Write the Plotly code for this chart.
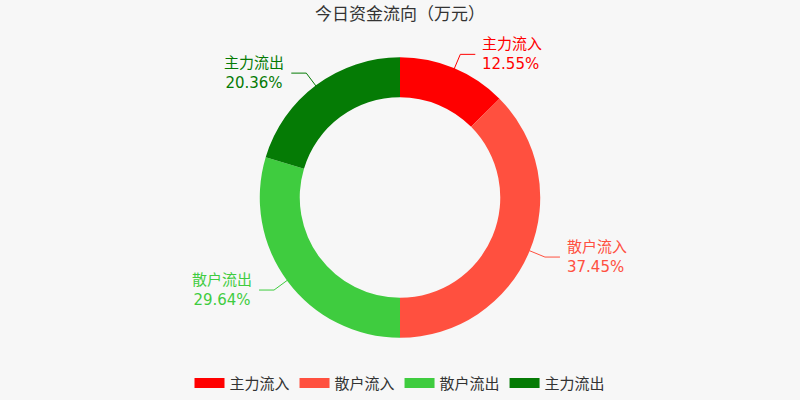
import math
import plotly.graph_objects as go

labels = ['主力流入', '散户流入', '散户流出', '主力流出']
values = [12.55, 37.45, 29.64, 20.36]
colors = ['#ff0000', '#ff503f', '#3fcc3f', '#057b05']

W, H = 800, 400
cx, cy, r_out = 400, 200, 140

fig = go.Figure()
fig.add_trace(go.Pie(
    labels=labels, values=values, hole=0.715, sort=False,
    direction='clockwise', rotation=0, textinfo='none',
    marker=dict(colors=colors, line=dict(width=0)),
    domain=dict(x=[0, 1], y=[0.145, 0.855]), showlegend=False,
))

# legend entries as thick line swatches (closer to the wide rounded boxes)
for lab, col in zip(labels, colors):
    fig.add_trace(go.Scatter(x=[None], y=[None], mode='lines', name=lab,
                             line=dict(color=col, width=14)))

# outside labels with leader lines, placed at each slice's middle angle
total = sum(values)
acc = 0
for lab, val, col in zip(labels, values, colors):
    mid = (acc + val / 2) / total * 2 * math.pi
    acc += val
    s, c = math.sin(mid), math.cos(mid)
    x0, y0 = cx + r_out * s, cy - r_out * c
    x1, y1 = cx + (r_out + 17) * s, cy - (r_out + 17) * c
    side = 1 if s >= 0 else -1
    x2 = x1 + side * 15
    pts = [(x0, y0), (x1, y1), (x2, y1)]
    path = 'M ' + ' L '.join(f'{px / W},{1 - py / H}' for px, py in pts)
    fig.add_shape(type='path', xref='paper', yref='paper', path=path,
                  line=dict(color=col, width=1))
    fig.add_annotation(
        x=(x2 + side * 5) / W, y=1 - y1 / H, xref='paper', yref='paper',
        text=f'{lab}<br>{val:.2f}%', showarrow=False,
        xanchor='left' if side > 0 else 'right', yanchor='middle',
        align='left' if side > 0 else 'center',
        font=dict(size=15, color=col))

fig.update_layout(
    width=W, height=H,
    margin=dict(l=0, r=0, t=0, b=0),
    paper_bgcolor='#f7f7f7', plot_bgcolor='#f7f7f7',
    font=dict(family='DejaVu Sans, Noto Sans CJK SC', color='#333333'),
    title=dict(text='今日资金流向（万元）', x=0.5, xanchor='center',
               y=0.965, yanchor='middle', font=dict(size=17, color='#333333')),
    legend=dict(orientation='h', x=0.5, xanchor='center', y=0.03,
                yanchor='middle', font=dict(size=15, color='#333333'),
                traceorder='normal'),
    xaxis=dict(visible=False), yaxis=dict(visible=False),
    showlegend=True,
)

fig.write_html('out.html', config={'displayModeBar': False},
               post_script="document.body.style.margin='0';")
